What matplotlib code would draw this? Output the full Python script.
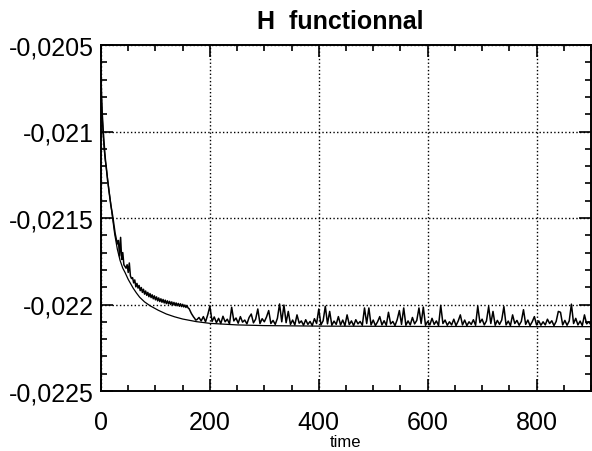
import numpy as np
import matplotlib
matplotlib.use("Agg")
import matplotlib.pyplot as plt
from matplotlib.ticker import MultipleLocator, FuncFormatter

plt.rcParams['font.family'] = ['Liberation Sans', 'DejaVu Sans']

# valeurs en unites de 1e-6
# courbe bruitee, debut (t = 0..174, pas 2)
h_noisy_head = [
    -20690, -20880, -20990, -21080, -21160, -21215, -21280, -21330, -21385, -21425,
    -21460, -21500, -21545, -21590, -21620, -21650, -21630, -21720, -21612, -21740,
    -21700, -21770, -21780, -21790, -21770, -21815, -21760, -21835, -21850, -21845,
    -21875, -21858, -21898, -21878, -21905, -21890, -21920, -21902, -21930, -21912,
    -21940, -21922, -21947, -21930, -21955, -21937, -21960, -21944, -21967, -21950,
    -21973, -21956, -21979, -21962, -21983, -21967, -21987, -21971, -21991, -21975,
    -21995, -21979, -21997, -21982, -22000, -21985, -22003, -21988, -22005, -21991,
    -22007, -21994, -22010, -21996, -22012, -21999, -22014, -22003, -22017, -22007,
    -22020, -22025, -22038, -22052, -22062, -22072, -22080, -22090,
]
# courbe bruitee, suite (t = 176..900, pas 4)
h_noisy_tail = [
    -22088, -22075, -22095, -22070, -22100, -22060, -22010, -22098, -22072, -22105,
    -22080, -22110, -22068, -22100, -22085, -22112, -22016, -22095, -22078, -22108,
    -22070, -22102, -22090, -22112, -22075, -22055, -22106, -22085, -22026, -22110,
    -22082, -22100, -22072, -22035, -22110, -22092, -22115, -22080, -21997, -22100,
    -22003, -22105, -22040, -22115, -22090, -22118, -22060, -22108, -22095, -22120,
    -22088, -22115, -22098, -22122, -22082, -22110, -22026, -22118, -22094, -22010,
    -22112, -22040, -22120, -22096, -22115, -22070, -22118, -22090, -22122, -22060,
    -22116, -22095, -22122, -22088, -22112, -22098, -22120, -22020, -22110, -22020,
    -22118, -22090, -22122, -22100, -22070, -22118, -22094, -22120, -22045, -22112,
    -22098, -22122, -22088, -22035, -22115, -22020, -22120, -22095, -22118, -22075,
    -22112, -22092, -22020, -22110, -22015, -22120, -22098, -22118, -22080, -22115,
    -22095, -22122, -22005, -22110, -22090, -22120, -22100, -22118, -22085, -22122,
    -22096, -22060, -22118, -22090, -22122, -22100, -22115, -22088, -22120, -22010,
    -22105, -22085, -22118, -22095, -22012, -22110, -22040, -22120, -22092, -22115,
    -22090, -22012, -22118, -22096, -22122, -22060, -22110, -22092, -22120, -22098,
    -22030, -22115, -22090, -22122, -22100, -22070, -22118, -22095, -22120, -22100,
    -22118, -22085, -22110, -22094, -22122, -22098, -22040, -22045, -22118, -22092,
    -22120, -22095, -21998, -22110, -22080, -22118, -22096, -22122, -22060, -22112,
    -22100, -22118,
]
t_noisy = np.concatenate([np.arange(0, 176, 2), np.arange(176, 901, 4)])
h_noisy = np.array(h_noisy_head + h_noisy_tail) * 1e-6

# courbe lisse
t_smooth = [0, 2, 4, 6, 8, 10, 12, 15, 18, 20, 25, 30, 35, 40, 44, 50, 59, 65, 71, 80,
            90, 105, 120, 135, 150, 175, 200, 250, 300, 400, 500, 600, 700, 800, 900]
h_smooth = np.array([-20750, -20900, -21020, -21110, -21170, -21220, -21270, -21350,
                     -21420, -21470, -21590, -21680, -21745, -21790, -21814, -21855,
                     -21905, -21933, -21958, -21985, -22007, -22033, -22055, -22071,
                     -22084, -22099, -22109, -22118, -22122, -22125, -22126, -22127,
                     -22127, -22128, -22128]) * 1e-6

fig = plt.figure(figsize=(5.92, 4.52), dpi=100)
ax = fig.add_axes([101/592, 60/452, 490/592, 346/452])

ax.plot(t_smooth, h_smooth, color='black', lw=0.9)
ax.plot(t_noisy, h_noisy, color='black', lw=1.1)

ax.set_xlim(0, 900)
ax.set_ylim(-0.0225, -0.0205)
ax.xaxis.set_major_locator(MultipleLocator(200))
ax.xaxis.set_minor_locator(MultipleLocator(50))
ax.yaxis.set_major_locator(MultipleLocator(0.0005))
ax.yaxis.set_minor_locator(MultipleLocator(0.0001))
ax.yaxis.set_major_formatter(FuncFormatter(lambda v, p: ("%.4f" % v).rstrip('0').replace('.', ',')))

ax.tick_params(which='both', direction='in', top=True, right=True, width=1.2)
ax.tick_params(which='major', length=8.5, labelsize=18)
ax.tick_params(which='minor', length=4.5)
ax.tick_params(axis='x', which='major', pad=14)
ax.tick_params(axis='y', which='major', pad=5)
ax.grid(True, which='major', linestyle=':', color='black', lw=1)
for s in ax.spines.values():
    s.set_linewidth(1.4)

ax.set_title("H  functionnal", fontsize=18, fontweight='bold', pad=12, x=0.488)
ax.set_xlabel("time", fontsize=12, labelpad=0)

fig.savefig("out.png", dpi=100)
